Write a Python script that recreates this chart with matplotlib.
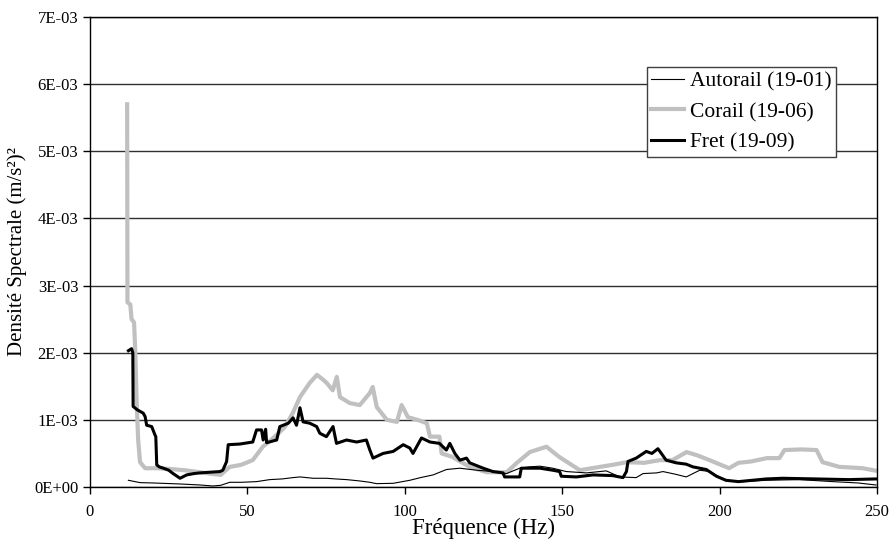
import numpy as np
import matplotlib
matplotlib.use('Agg')
import matplotlib.pyplot as plt
from matplotlib.ticker import FuncFormatter, MultipleLocator

plt.rcParams['font.family'] = ['Liberation Serif', 'DejaVu Serif']

# valeurs, en 1E-03 (m/s²)²
autorail_f = [12.2, 15.9, 20.0, 28.6, 35.0, 39.0, 41.5, 44.4, 48.0, 52.9, 57.1, 61.0, 64.5,
              66.7, 70.9, 75.1, 78.0, 81.5, 85.7, 88.9, 91.0, 96.3, 101.6, 105.0, 109.0,
              113.2, 117.5, 122.8, 128.0, 132.3, 136.5, 139.5, 142.9, 147.0, 151.3, 157.7,
              164.0, 168.3, 173.5, 175.7, 180.0, 182.0, 186.0, 189.4, 193.7, 196.8, 202.0,
              207.4, 214.8, 225.4, 236.0, 244.0, 249.7]
autorail_v = [0.10, 0.065, 0.06, 0.045, 0.03, 0.015, 0.025, 0.07, 0.07, 0.08, 0.11, 0.12, 0.14,
              0.15, 0.13, 0.13, 0.12, 0.11, 0.09, 0.07, 0.05, 0.055, 0.10, 0.14, 0.18,
              0.26, 0.28, 0.25, 0.23, 0.20, 0.28, 0.30, 0.31, 0.28, 0.23, 0.21,
              0.24, 0.15, 0.14, 0.20, 0.21, 0.23, 0.19, 0.15, 0.25, 0.23, 0.10,
              0.08, 0.10, 0.11, 0.08, 0.06, 0.03]

corail_f = [11.8, 11.9, 12.8, 13.2, 14.0, 14.4, 14.8, 15.3, 15.9, 17.5, 21.0, 25.0, 30.0,
            35.0, 38.0, 41.5, 44.4, 48.0, 51.7, 54.9, 57.5, 60.3, 62.0, 64.4, 66.7, 69.8,
            72.1, 74.0, 75.2, 77.1, 78.4, 79.4, 82.5, 85.7, 88.9, 89.8, 91.1, 94.3, 97.5,
            99.0, 101.0, 104.0, 107.0, 108.0, 111.0, 111.7, 115.0, 120.6, 126.0, 132.4,
            135.6, 139.7, 145.0, 149.0, 155.6, 162.0, 166.0, 170.5, 176.0, 181.0, 185.0,
            189.5, 193.0, 196.8, 203.0, 206.0, 210.0, 215.0, 219.0, 220.6, 226.0, 230.8,
            232.7, 238.0, 245.4, 250.0]
corail_v = [5.70, 2.75, 2.72, 2.50, 2.45, 2.00, 1.30, 0.70, 0.37, 0.28, 0.28, 0.27, 0.25,
            0.22, 0.20, 0.18, 0.30, 0.33, 0.40, 0.60, 0.70, 0.82, 0.90, 1.10, 1.34, 1.55,
            1.67, 1.60, 1.55, 1.44, 1.64, 1.34, 1.25, 1.22, 1.40, 1.49, 1.19, 1.00, 0.97,
            1.22, 1.04, 1.00, 0.95, 0.75, 0.75, 0.50, 0.45, 0.30, 0.22, 0.22,
            0.36, 0.52, 0.60, 0.45, 0.25, 0.30, 0.33, 0.37, 0.36, 0.40, 0.40,
            0.52, 0.47, 0.40, 0.28, 0.36, 0.38, 0.43, 0.43, 0.55, 0.56, 0.55,
            0.37, 0.30, 0.28, 0.24]

fret_f = [12.2, 13.2, 13.6, 13.7, 15.0, 16.9, 17.5, 18.0, 19.6, 20.6, 20.9, 21.2, 22.0, 23.3,
          25.0, 26.4, 28.6, 30.7, 33.0, 34.9, 38.0, 41.3, 42.2, 43.4, 43.9, 47.6, 51.7, 52.9,
          54.5, 55.0, 55.8, 56.1, 59.3, 60.3, 63.0, 64.5, 65.6, 66.7, 67.7, 69.8, 72.0, 73.0,
          75.1, 77.2, 78.3, 81.5, 84.7, 87.8, 88.9, 89.9, 93.1, 96.3, 99.5, 101.6, 102.6,
          105.3, 108.0, 111.0, 113.2, 114.3, 115.9, 117.5, 119.6, 120.6, 124.9, 128.0, 131.2,
          131.7, 136.5, 137.0, 142.9, 147.0, 149.2, 149.7, 154.5, 159.8, 166.0, 169.3, 170.4,
          170.9, 173.5, 176.7, 178.5, 180.4, 181.5, 183.0, 186.2, 189.4, 191.5, 195.8, 199.0,
          202.0, 206.0, 214.8, 220.0, 230.7, 241.0, 249.7]
fret_v = [2.03, 2.06, 2.00, 1.20, 1.15, 1.10, 1.05, 0.92, 0.90, 0.78, 0.75, 0.33, 0.30, 0.28,
          0.25, 0.20, 0.13, 0.18, 0.20, 0.21, 0.22, 0.23, 0.25, 0.38, 0.63, 0.64, 0.67, 0.85,
          0.85, 0.70, 0.86, 0.66, 0.70, 0.90, 0.95, 1.03, 0.92, 1.18, 0.97, 0.95, 0.90, 0.80,
          0.75, 0.90, 0.65, 0.70, 0.67, 0.70, 0.55, 0.43, 0.50, 0.53, 0.63, 0.58, 0.50,
          0.73, 0.67, 0.65, 0.55, 0.65, 0.50, 0.40, 0.43, 0.36, 0.28, 0.23, 0.21,
          0.15, 0.15, 0.28, 0.28, 0.25, 0.23, 0.16, 0.15, 0.18, 0.17, 0.14, 0.23,
          0.38, 0.43, 0.53, 0.50, 0.57, 0.50, 0.40, 0.36, 0.34, 0.30, 0.26, 0.16,
          0.10, 0.08, 0.12, 0.13, 0.12, 0.11, 0.12]

fig = plt.figure(figsize=(8.9, 5.51), dpi=100)
ax = fig.add_axes([90/890, 64/551, 787/890, 470/551])

ax.plot(autorail_f, np.array(autorail_v)*1e-3, color='black', lw=0.8, label='Autorail (19-01)', zorder=3)
ax.plot(corail_f, np.array(corail_v)*1e-3, color='#c0c0c0', lw=3.0, label='Corail (19-06)', zorder=2)
ax.plot(fret_f, np.array(fret_v)*1e-3, color='black', lw=2.2, label='Fret (19-09)', zorder=4)

ax.set_xlim(0, 250)
ax.set_ylim(0, 7e-3)
ax.xaxis.set_major_locator(MultipleLocator(50))
ax.yaxis.set_major_locator(MultipleLocator(1e-3))
ax.yaxis.set_major_formatter(FuncFormatter(lambda v, p: '%.0E' % v))
ax.grid(axis='y', color='#303030', lw=1.0)
ax.set_axisbelow(True)
for s in ax.spines.values():
    s.set_color('black')
    s.set_linewidth(1.0)
ax.tick_params(direction='out', length=5, width=1, labelsize=12, colors='black')
ax.tick_params(axis='x', pad=7)

ax.set_xlabel('Fréquence (Hz)', fontsize=16.5, labelpad=-1)
ax.set_ylabel('Densité Spectrale (m/s²)²', fontsize=15, labelpad=5)

leg = ax.legend(loc='upper right', bbox_to_anchor=(0.948, 0.894), borderaxespad=0,
                fontsize=15.5, fancybox=False, framealpha=1, edgecolor='#404040',
                handlelength=1.5, handletextpad=0.3, borderpad=0.2, labelspacing=0.5)
leg.get_frame().set_linewidth(1.0)

fig.savefig('out.png', dpi=100)
